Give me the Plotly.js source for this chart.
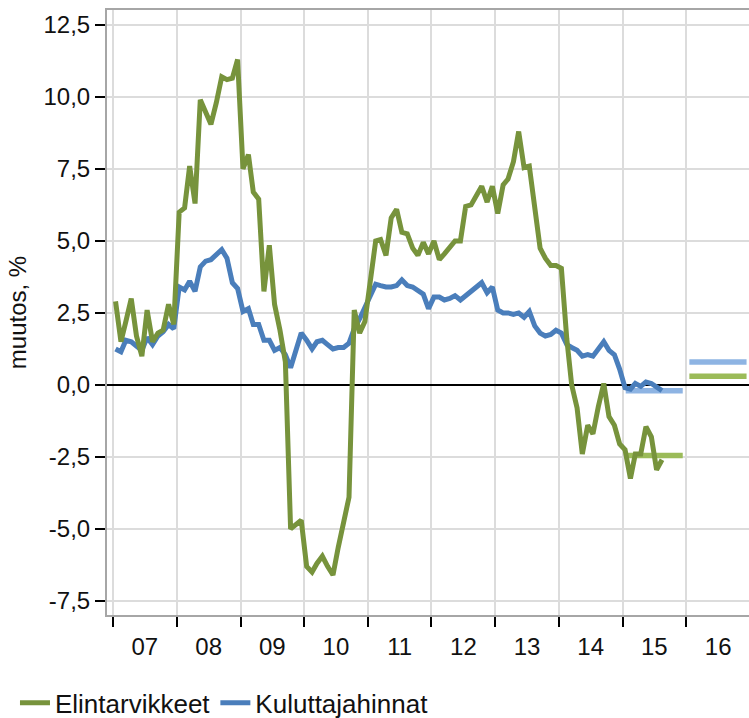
<!DOCTYPE html>
<html>
<head>
<meta charset="utf-8">
<script src="https://cdn.plot.ly/plotly-3.0.1.min.js"></script>
<style>html,body{margin:0;padding:0;background:#fff;}#chart{width:749px;height:718px;}</style>
</head>
<body>
<div id="chart"></div>
<script>
// Monthly series, Jan 2007 – Aug 2015 (annual change, %)
const startYear = 2007;
const elintarvikkeet = [
  2.9, 1.5, 2.2, 3.0, 1.7, 1.0, 2.6, 1.5, 1.8, 1.9, 2.8, 2.1,
  6.0, 6.15, 7.6, 6.3, 9.9, 9.5, 9.05, 9.8, 10.7, 10.6, 10.65, 11.3,
  7.5, 8.0, 6.7, 6.45, 3.25, 4.85, 2.8, 1.9, 0.8, -5.0, -4.85, -4.7,
  -6.3, -6.5, -6.2, -5.95, -6.3, -6.6, -5.65, -4.7, -3.9, 2.6, 1.8, 2.2,
  3.6, 5.0, 5.05, 4.5, 5.8, 6.1, 5.3, 5.25, 4.75, 4.5, 4.95, 4.55,
  5.0, 4.35, 4.55, 4.8, 5.0, 5.0, 6.2, 6.25, 6.6, 6.9, 6.35, 6.9,
  5.95, 6.95, 7.15, 7.75, 8.8, 7.55, 7.6, 6.2, 4.75, 4.4, 4.15, 4.15,
  4.05, 1.6, 0.0, -0.8, -2.4, -1.4, -1.7, -0.75, 0.05, -1.1, -1.4, -2.05,
  -2.25, -3.25, -2.4, -2.4, -1.45, -1.8, -2.95, -2.6
];
const kuluttajahinnat = [
  1.25, 1.15, 1.55, 1.5, 1.35, 1.2, 1.65, 1.4, 1.7, 1.85, 2.1, 1.95,
  3.4, 3.3, 3.6, 3.25, 4.1, 4.3, 4.35, 4.55, 4.7, 4.4, 3.55, 3.35,
  2.55, 2.65, 2.1, 2.1, 1.55, 1.55, 1.2, 1.3, 1.05, 0.6, 1.2, 1.8,
  1.55, 1.25, 1.5, 1.55, 1.4, 1.25, 1.3, 1.3, 1.45, 1.95, 2.3, 2.7,
  3.1, 3.5, 3.45, 3.4, 3.4, 3.45, 3.65, 3.45, 3.4, 3.25, 3.15, 2.65,
  3.05, 3.05, 2.95, 3.0, 3.1, 2.95, 3.1, 3.3, 3.45, 3.55, 3.2, 3.4,
  2.6, 2.5, 2.5, 2.45, 2.5, 2.35, 2.55, 2.05, 1.8, 1.7, 1.75, 1.9,
  1.8, 1.4, 1.3, 1.2, 1.0, 1.05, 1.0, 1.25, 1.5, 1.2, 1.05, 0.55,
  -0.1, -0.15, 0.05, -0.05, 0.1, 0.05, -0.1, -0.2
];
// Forecast annual averages
const forecastYears = [2015, 2016];
const ennusteElintarvikkeet = [-2.45, 0.3];
const ennusteKuluttajahinnat = [-0.2, 0.8];

const yearLabels = ['07','08','09','10','11','12','13','14','15','16'];
const yTickVals = [-7.5, -5, -2.5, 0, 2.5, 5, 7.5, 10, 12.5];
const yTickText = ['-7,5','-5,0','-2,5','0,0','2,5','5,0','7,5','10,0','12,5'];

const pad = n => String(n).padStart(2,'0');
const months = elintarvikkeet.map((_, i) => {
  const y = startYear + Math.floor(i / 12);
  const m = (i % 12) + 1;
  return y + '-' + pad(m) + '-15';
});
const gridDates = [];
for (let y = 2007; y <= 2017; y++) gridDates.push(y + '-01-01');
const labelDates = yearLabels.map((_, i) => (2007 + i) + '-07-02');
const xRange = ['2006-11-27', '2016-12-26'];

const GREEN = '#77933c', BLUE = '#4a7ebb';
const LGREEN = '#9bbb59', LBLUE = '#8eb4e3';

const traces = [];
forecastYears.forEach((yr, k) => {
  traces.push({x: [yr + '-01-19', yr + '-12-12'], y: [ennusteKuluttajahinnat[k], ennusteKuluttajahinnat[k]],
    mode: 'lines', line: {color: LBLUE, width: 5.5}, showlegend: false, hoverinfo: 'skip'});
  traces.push({x: [yr + '-01-19', yr + '-12-12'], y: [ennusteElintarvikkeet[k], ennusteElintarvikkeet[k]],
    mode: 'lines', line: {color: LGREEN, width: 5.5}, showlegend: false, hoverinfo: 'skip'});
});
traces.push({x: months, y: kuluttajahinnat, name: 'Kuluttajahinnat', mode: 'lines',
  line: {color: BLUE, width: 5}, legendrank: 2});
traces.push({x: months, y: elintarvikkeet, name: 'Elintarvikkeet', mode: 'lines',
  line: {color: GREEN, width: 5}, legendrank: 1});
traces.push({x: [labelDates[0]], y: [null], xaxis: 'x2', mode: 'lines', showlegend: false, hoverinfo: 'skip'});

const layout = {
  width: 749, height: 718,
  margin: {l: 107, r: 0, t: 10, b: 103},
  paper_bgcolor: '#ffffff', plot_bgcolor: '#ffffff',
  font: {family: 'Liberation Sans, Arial, sans-serif', size: 24, color: '#111'},
  showlegend: true,
  legend: {orientation: 'h', xref: 'container', yref: 'container', x: 0.02, xanchor: 'left',
    y: 0.021, yanchor: 'middle', font: {size: 26}, bgcolor: 'rgba(0,0,0,0)'},
  xaxis: {type: 'date', range: xRange, tickmode: 'array', tickvals: gridDates, showticklabels: false,
    ticks: 'outside', ticklen: 10, tickwidth: 2, tickcolor: '#000',
    showgrid: true, gridcolor: '#dcdcdc', gridwidth: 2,
    showline: true, linecolor: '#a6a6a6', linewidth: 2, mirror: true, zeroline: false},
  xaxis2: {type: 'date', overlaying: 'x', anchor: 'y', side: 'bottom', range: xRange,
    tickmode: 'array', tickvals: labelDates, ticktext: yearLabels, ticks: '',
    showgrid: false, showline: false, zeroline: false, ticklabelstandoff: 15},
  yaxis: {range: [-7.99, 13.02], tickmode: 'array', tickvals: yTickVals, ticktext: yTickText,
    ticks: 'outside', ticklen: 10, tickwidth: 1.5, tickcolor: '#000',
    showgrid: true, gridcolor: '#dcdcdc', gridwidth: 2,
    zeroline: true, zerolinecolor: '#000', zerolinewidth: 1.5,
    showline: true, linecolor: '#a6a6a6', linewidth: 2,
    title: {text: 'muutos, %', font: {size: 24}, standoff: 10}}
};

Plotly.newPlot('chart', traces, layout, {staticPlot: true, displayModeBar: false});
</script>
</body>
</html>
